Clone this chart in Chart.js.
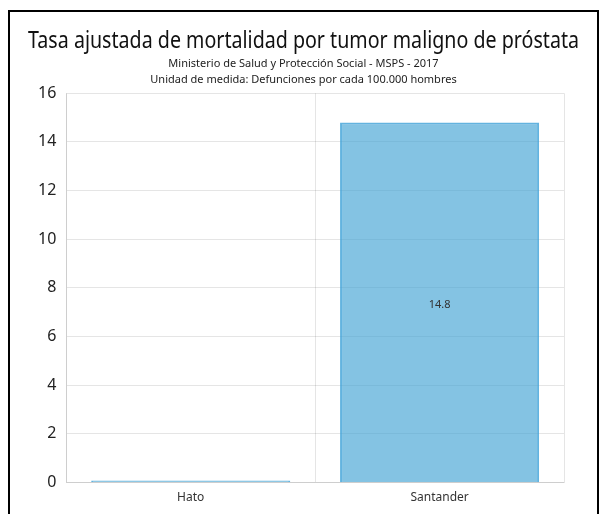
<!DOCTYPE html>
<html>
<head>
<meta charset="utf-8">
<script src="https://cdn.jsdelivr.net/npm/chart.js@4"></script>
<style>
    html, body { margin: 0; padding: 0; background: #fff; }
    #frame {
        position: absolute;
        left: 8px;
        top: 10px;
        width: 591px;
        height: 520px;
        box-sizing: border-box;
        border: 2px solid #000;
        overflow: hidden;
    }
    canvas { display: block; }
</style>
</head>
<body>
<div id="frame">
    <canvas id="mortalidadChart" width="587" height="505"></canvas>
</div>
<script>
const categories = ['Hato', 'Santander'];
const tasaValues = [0, 14.8];
const yTicks = [0, 2, 4, 6, 8, 10, 12, 14, 16];

const chartTitle = 'Tasa ajustada de mortalidad por tumor maligno de próstata';
const chartSubtitle = [
    'Ministerio de Salud y Protección Social - MSPS - 2017',
    'Unidad de medida: Defunciones por cada 100.000 hombres'
];

const FONT = '"Noto Sans", "Open Sans", sans-serif';

// draws the value in the middle of each bar (skip zeros)
const barValueLabels = {
    id: 'barValueLabels',
    afterDatasetsDraw(chart) {
        const ctx = chart.ctx;
        const meta = chart.getDatasetMeta(0);
        ctx.save();
        ctx.font = '11px ' + FONT;
        ctx.fillStyle = '#333';
        ctx.textAlign = 'center';
        ctx.textBaseline = 'middle';
        meta.data.forEach((bar, i) => {
            const v = chart.data.datasets[0].data[i];
            if (!v) return;
            ctx.fillText(v.toFixed(1), bar.x, (bar.y + bar.base) / 2 + 3);
        });
        ctx.restore();
    }
};

function createChart() {
    const ctx = document.getElementById('mortalidadChart').getContext('2d');
    return new Chart(ctx, {
        type: 'bar',
        data: {
            labels: categories,
            datasets: [{
                label: 'Tasa ajustada',
                data: tasaValues,
                yAxisID: 'y',
                backgroundColor: 'rgba(60, 160, 210, 0.63)',
                borderColor: 'rgba(60, 160, 215, 0.8)',
                borderWidth: 2,
                minBarLength: 2,
                barPercentage: 0.8,
                categoryPercentage: 1.0
            }]
        },
        options: {
            responsive: false,
            animation: false,
            layout: {
                padding: { top: 5, left: 18, right: 18, bottom: 4 }
            },
            scales: {
                x: {
                    grid: {
                        color: 'rgba(0,0,0,0.1)',
                        drawTicks: false
                    },
                    border: { color: 'rgba(0,0,0,0.1)' },
                    ticks: {
                        color: '#333',
                        padding: 8,
                        font: { family: FONT, size: 12 }
                    }
                },
                y: {
                    min: 0,
                    max: 16,
                    afterBuildTicks: axis => {
                        axis.ticks = yTicks.map(v => ({ value: v }));
                    },
                    grid: {
                        color: 'rgba(0,0,0,0.1)',
                        drawTicks: false
                    },
                    border: { color: 'rgba(0,0,0,0.1)' },
                    ticks: {
                        color: '#222',
                        padding: 10,
                        font: { family: FONT, size: 16 }
                    }
                },
                // empty spacer on the right so the title stays centred on the canvas
                spacer: {
                    type: 'linear',
                    axis: 'y',
                    position: 'right',
                    grid: { display: false },
                    border: { display: false },
                    ticks: { display: false },
                    afterFit: axis => {
                        axis.width = 15;
                    }
                }
            },
            plugins: {
                legend: { display: false },
                tooltip: { enabled: false },
                title: {
                    display: true,
                    text: chartTitle,
                    color: '#111',
                    padding: { top: 11, bottom: 0 },
                    font: { family: FONT, size: 22.7, weight: 'normal' }
                },
                subtitle: {
                    display: true,
                    text: chartSubtitle,
                    color: '#222',
                    padding: { top: 0, bottom: 5 },
                    font: { family: FONT, size: 11, lineHeight: 1.5 }
                }
            }
        },
        plugins: [barValueLabels]
    });
}

document.addEventListener('DOMContentLoaded', () => {
    createChart();
});
</script>
</body>
</html>
